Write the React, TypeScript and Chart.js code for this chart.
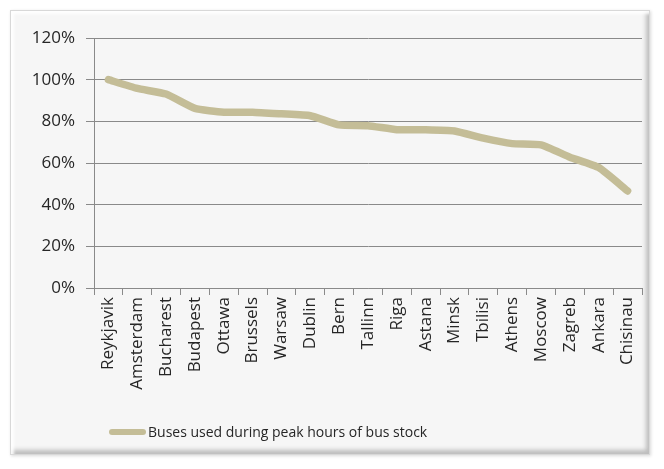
import React, { useEffect, useRef } from "react";
import { Chart, registerables } from "chart.js";

Chart.register(...registerables);

const cities = [
  "Reykjavik", "Amsterdam", "Bucharest", "Budapest", "Ottawa", "Brussels", "Warsaw",
  "Dublin", "Bern", "Tallinn", "Riga", "Astana", "Minsk", "Tbilisi", "Athens",
  "Moscow", "Zagreb", "Ankara", "Chisinau",
];
const busesPeakShare = [
  100, 95.8, 93.1, 86.2, 84.4, 84.4, 83.6, 82.7, 78.3, 77.9, 76.0, 76.0, 75.4,
  71.9, 69.3, 68.7, 62.8, 57.8, 46.6,
];
const seriesLabel = "Buses used during peak hours of bus stock";
const yTicks = [0, 20, 40, 60, 80, 100, 120];
const lineColor = "#C4BD97";

export default function App() {
  const ref = useRef<HTMLCanvasElement | null>(null);
  useEffect(() => {
    if (!ref.current) return;
    const font = { family: "'Open Sans', 'Noto Sans', sans-serif", size: 17 };
    const chart = new Chart(ref.current, {
      type: "line",
      data: {
        labels: cities,
        datasets: [
          {
            label: seriesLabel,
            data: busesPeakShare,
            borderColor: lineColor,
            backgroundColor: lineColor,
            borderWidth: 7.5,
            pointRadius: 0,
            tension: 0.15,
            borderJoinStyle: "round",
            borderCapStyle: "round",
          },
        ],
      },
      options: {
        responsive: false,
        animation: false,
        layout: { padding: { top: 25, right: 9, left: 0, bottom: 0 } },
        plugins: {
          tooltip: { enabled: false },
          legend: { display: false },
        },
        scales: {
          x: {
            offset: true,
            grid: {
              offset: true,
              drawOnChartArea: false,
              drawTicks: true,
              tickLength: 7,
              color: "#8a8a8a",
            },
            border: { color: "#8a8a8a" },
            ticks: {
              color: "#262626",
              font,
              maxRotation: 90,
              minRotation: 90,
              autoSkip: false,
              padding: 2,
            },
            afterFit: (s: any) => {
              s.height = 168;
            },
          },
          y: {
            min: 0,
            max: 120,
            afterBuildTicks: (s: any) => {
              s.ticks = yTicks.map((v) => ({ value: v }));
            },
            grid: { color: "#8a8a8a", tickLength: 8, drawTicks: true },
            border: { color: "#8a8a8a" },
            ticks: {
              color: "#262626",
              font,
              padding: 11,
              callback: (v: any) => v + "%",
            },
            afterFit: (s: any) => {
              s.width = 81;
            },
          },
        },
      },
    } as any);
    return () => chart.destroy();
  }, []);

  return (
    <div
      style={{
        position: "fixed",
        left: 0,
        top: 0,
        width: 664,
        height: 469,
        background: "#ffffff",
      }}
    >
      <div
        style={{
          position: "absolute",
          left: 10,
          top: 10,
          width: 640,
          height: 445,
          background: "#f6f6f6",
          boxSizing: "border-box",
          border: "1px solid #d8d8d8",
          boxShadow:
            "inset 3px 3px 3px rgba(255,255,255,0.9), inset -3px -4px 4px rgba(120,120,120,0.45), 1px 1px 3px rgba(0,0,0,0.15)",
        }}
      >
        <canvas
          ref={ref}
          width={638}
          height={443}
          style={{ position: "absolute", left: 2, top: 2, width: 638, height: 443 }}
        />
        <div
          style={{
            position: "absolute",
            left: 98,
            top: 411,
            display: "flex",
            alignItems: "center",
            fontFamily: "'Open Sans', 'Noto Sans', sans-serif",
            fontSize: 14,
            color: "#262626",
            whiteSpace: "nowrap",
          }}
        >
          <span
            style={{
              display: "inline-block",
              width: 37,
              height: 6,
              borderRadius: 3,
              background: lineColor,
              marginRight: 2,
            }}
          />
          <span>{seriesLabel}</span>
        </div>
      </div>
    </div>
  );
}
